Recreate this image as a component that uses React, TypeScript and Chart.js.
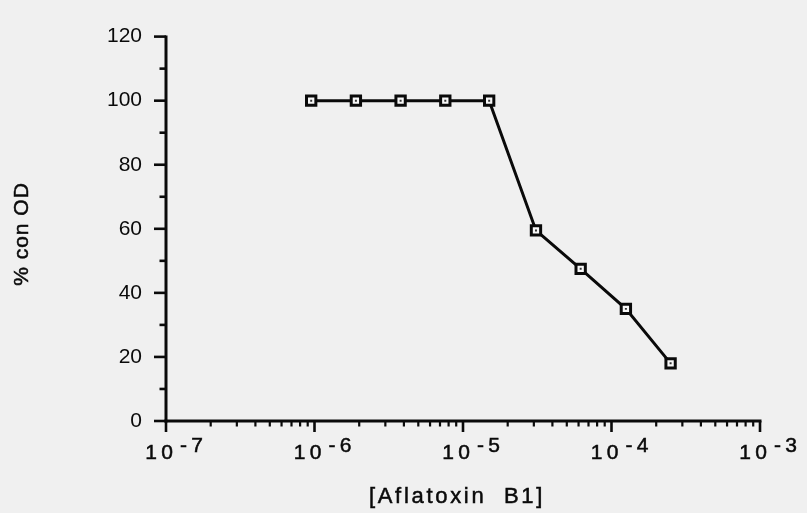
import React, { useEffect, useRef } from "react";
import { Chart, registerables } from "chart.js";

Chart.register(...registerables);

// ---- data ----
const concentrations = [9.5e-7, 1.9e-6, 3.8e-6, 7.6e-6, 1.5e-5, 3.1e-5, 6.2e-5, 1.25e-4, 2.5e-4];
const percentOD = [100, 100, 100, 100, 100, 59.5, 47.5, 35, 18];

// ---- axis ticks / labels ----
const xDecadeExponents = [-7, -6, -5, -4, -3];
const xMinorMultipliers = [2, 3, 4, 5, 6, 7, 8, 9];
const yMajorTicks = [0, 20, 40, 60, 80, 100, 120];
const yMinorTicks = [10, 30, 50, 70, 90, 110];
const xTitle = "[Aflatoxin  B1]";
const yTitle = "% con OD";

const FONT = '"Liberation Sans", Arial, Helvetica, sans-serif';
const INK = "#0a0a0a";
const BG = "#f0f0f0";

function boldText(ctx: any, text: string, x: number, y: number) {
  ctx.fillText(text, x, y);
  ctx.strokeText(text, x, y);
}

const axesPlugin = {
  id: "customAxes",
  beforeDraw(chart: any) {
    const ctx = chart.ctx;
    ctx.save();
    ctx.fillStyle = BG;
    ctx.fillRect(0, 0, chart.width, chart.height);
    ctx.restore();
  },
  beforeDatasetsDraw(chart: any) {
    const ctx = chart.ctx;
    const xs = chart.scales.x;
    const ys = chart.scales.y;
    const { left, right, bottom } = chart.chartArea;
    const yTop = ys.getPixelForValue(yMajorTicks[yMajorTicks.length - 1]);
    const yBot = ys.getPixelForValue(0);
    ctx.save();
    ctx.strokeStyle = INK;
    ctx.lineCap = "butt";
    // axis lines
    ctx.lineWidth = 3;
    ctx.beginPath();
    ctx.moveTo(left, yTop - 1);
    ctx.lineTo(left, yBot + 1.5);
    ctx.stroke();
    ctx.beginPath();
    ctx.moveTo(left - 1.5, bottom);
    ctx.lineTo(right + 1.5, bottom);
    ctx.stroke();
    // y ticks
    ctx.lineWidth = 2.6;
    yMajorTicks.forEach((v) => {
      const p = ys.getPixelForValue(v);
      ctx.beginPath();
      ctx.moveTo(left - 12, p);
      ctx.lineTo(left, p);
      ctx.stroke();
    });
    yMinorTicks.forEach((v) => {
      const p = ys.getPixelForValue(v);
      ctx.beginPath();
      ctx.moveTo(left - 6.5, p);
      ctx.lineTo(left, p);
      ctx.stroke();
    });
    // x ticks
    xDecadeExponents.forEach((e, i) => {
      const dec = Math.pow(10, e);
      const p = xs.getPixelForValue(dec);
      ctx.lineWidth = 2.6;
      ctx.beginPath();
      ctx.moveTo(p, bottom);
      ctx.lineTo(p, bottom + 11);
      ctx.stroke();
      if (i < xDecadeExponents.length - 1) {
        ctx.lineWidth = 2.2;
        xMinorMultipliers.forEach((m) => {
          const q = xs.getPixelForValue(m * dec);
          ctx.beginPath();
          ctx.moveTo(q, bottom);
          ctx.lineTo(q, bottom + 5.5);
          ctx.stroke();
        });
      }
    });
    // x tick labels: 10 with raised exponent
    ctx.fillStyle = INK;
    ctx.lineWidth = 0.5;
    ctx.font = `21px ${FONT}`;
    ctx.textAlign = "center";
    ctx.textBaseline = "alphabetic";
    xDecadeExponents.forEach((e) => {
      const t = xs.getPixelForValue(Math.pow(10, e));
      boldText(ctx, "1", t - 15, 459);
      boldText(ctx, "0", t + 1, 459);
      boldText(ctx, "-", t + 17.5, 452);
      boldText(ctx, String(Math.abs(e)), t + 31, 452);
    });
    // x title
    ctx.font = `22px ${FONT}`;
    (ctx as any).letterSpacing = "2.7px";
    boldText(ctx, xTitle, 457, 503);
    // y title
    ctx.font = `21px ${FONT}`;
    (ctx as any).letterSpacing = "1px";
    ctx.translate(22, 234);
    ctx.rotate(-Math.PI / 2);
    ctx.textBaseline = "middle";
    boldText(ctx, yTitle, 0, 0);
    (ctx as any).letterSpacing = "0px";
    ctx.restore();
  },
};

export default function App() {
  const ref = useRef<HTMLCanvasElement>(null);
  useEffect(() => {
    document.body.style.margin = "0";
    const points = concentrations.map((c, i) => ({ x: c, y: percentOD[i] }));
    const chart = new Chart(ref.current as HTMLCanvasElement, {
      type: "line",
      data: {
        datasets: [
          {
            data: points,
            borderColor: INK,
            borderWidth: 3,
            tension: 0,
            pointStyle: "rect",
            pointRadius: 6.6,
            pointBorderWidth: 3,
            pointBorderColor: INK,
            pointBackgroundColor: "#f7f7f7",
            order: 1,
          },
          {
            data: points,
            showLine: false,
            pointStyle: "rect",
            pointRadius: 1.4,
            pointBorderWidth: 0,
            pointBackgroundColor: "#333333",
            order: 0,
          },
        ],
      },
      plugins: [axesPlugin],
      options: {
        responsive: false,
        devicePixelRatio: 1,
        animation: false,
        layout: { padding: { top: 18, right: 47, bottom: 0, left: 0 } },
        plugins: { legend: { display: false }, tooltip: { enabled: false } },
        scales: {
          x: {
            type: "logarithmic",
            min: 1e-7,
            max: 1e-3,
            grid: { display: false, drawTicks: false },
            border: { display: false },
            ticks: { display: false },
            afterFit: (s: any) => {
              s.height = 92;
            },
          },
          y: {
            type: "linear",
            min: 0,
            max: 120,
            grid: { display: false, drawTicks: false },
            border: { display: false },
            ticks: {
              stepSize: 20,
              padding: 24,
              color: INK,
              font: { family: FONT, size: 21 },
              callback: (v: any) => (yMajorTicks.includes(Number(v)) ? String(v) : ""),
            },
            afterFit: (s: any) => {
              s.width = 166;
            },
          },
        },
      },
    } as any);
    return () => chart.destroy();
  }, []);
  return (
    <div style={{ width: 807, height: 513, background: BG }}>
      <canvas ref={ref} width={807} height={513} style={{ display: "block", width: 807, height: 513 }} />
    </div>
  );
}
